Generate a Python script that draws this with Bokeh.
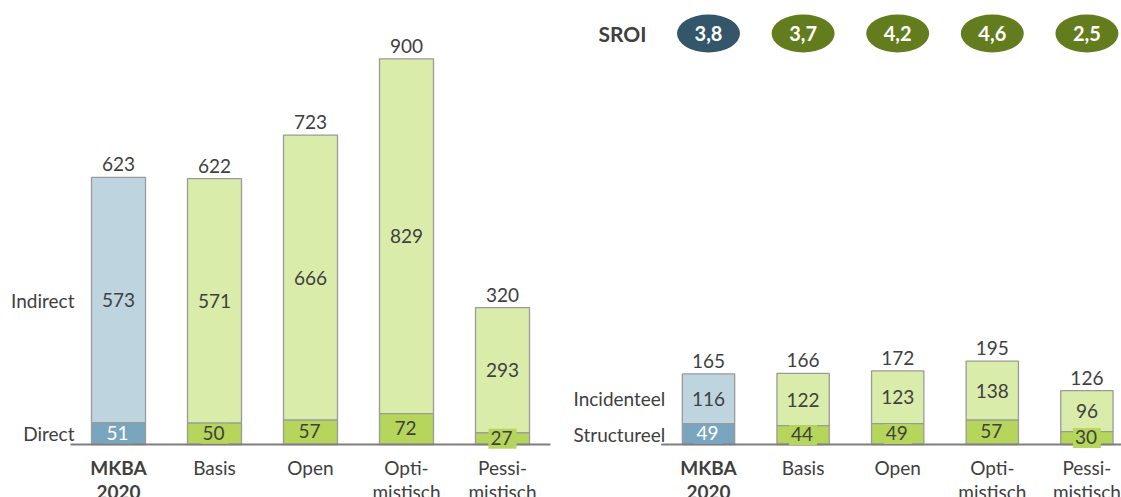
from bokeh.plotting import figure
from bokeh.layouts import row
from bokeh.models import ColumnDataSource, Range1d
from bokeh.core.properties import value
from bokeh.embed import file_html
from bokeh.resources import INLINE

# ---------------- data ----------------
categories = ["MKBA\n2020", "Basis", "Open", "Opti-\nmistisch", "Pessi-\nmistisch"]
cat_weight = ["bold", "normal", "normal", "normal", "normal"]

direct = [51, 50, 57, 72, 27]
indirect = [573, 571, 666, 829, 293]
total_left = [623, 622, 723, 900, 320]

structureel = [49, 44, 49, 57, 30]
incidenteel = [116, 122, 123, 138, 96]
total_right = [165, 166, 172, 195, 126]

sroi = ["3,8", "3,7", "4,2", "4,6", "2,5"]

# ---------------- styles ----------------
FONT = value("Lato")
TXT = "#404040"
LIGHT = ["#BED4DF", "#D9ECA9", "#D9ECA9", "#D9ECA9", "#D9ECA9"]
DARK = ["#79A6BE", "#B5D65B", "#B5D65B", "#B5D65B", "#B5D65B"]
INNER_TXT = ["#FFFFFF", TXT, TXT, TXT, TXT]
ELL = ["#34566A", "#637C1E", "#637C1E", "#637C1E", "#637C1E"]
OUTLINE = "#9A9A9A"
AXIS = "#7F7F7F"

H = 497
PXU = 0.428          # pixels per data unit
BASE = 444           # baseline distance from figure top
y_lo = -(H - BASE) / PXU
y_hi = BASE / PXU


def make_chart(width, step, first_center, bar_w, lower, upper, totals, low_name, up_name):
    n = len(categories)
    xs = list(range(n))
    x0 = -first_center / step
    x1 = x0 + width / step
    p = figure(width=width, height=H, output_backend="svg", toolbar_location=None,
               x_range=Range1d(x0, x1), y_range=Range1d(y_lo, y_hi),
               x_axis_location=None, y_axis_location=None, min_border=0)
    p.outline_line_color = None
    p.grid.visible = False

    tops = [a + b for a, b in zip(lower, upper)]
    src = ColumnDataSource(dict(
        x=xs, lower=lower, upper=upper, tops=tops, totals=[str(t) for t in totals],
        lo_mid=[v / 2 for v in lower], up_mid=[a + b / 2 for a, b in zip(lower, upper)],
        lo_txt=[str(v) for v in lower], up_txt=[str(v) for v in upper],
        light=LIGHT, dark=DARK, inner=INNER_TXT, cats=categories, weight=cat_weight,
        zero=[0] * n))

    p.vbar(x="x", bottom="lower", top="tops", width=bar_w, fill_color="light",
           line_color=OUTLINE, line_width=1.3, source=src)
    p.vbar(x="x", bottom="zero", top="lower", width=bar_w, fill_color="dark",
           line_color=OUTLINE, line_width=1.3, source=src)

    # baseline
    p.segment(x0=-0.5, y0=0, x1=min(n - 0.5, x1), y1=0, line_color=AXIS, line_width=2)

    # value labels
    p.text(x="x", y="up_mid", text="up_txt", source=src, text_font=FONT,
           text_font_size="19px", text_color=TXT, text_align="center",
           text_baseline="middle")
    p.text(x="x", y="lo_mid", text="lo_txt", source=src, text_font=FONT,
           text_font_size="19px", text_color="inner", text_align="center",
           text_baseline="middle", background_fill_color="dark", padding=(2, 4, 2, 4))
    p.text(x="x", y="tops", text="totals", source=src, text_font=FONT,
           text_font_size="19px", text_color=TXT, text_align="center",
           text_baseline="middle", y_offset=-13)

    # category labels
    p.text(x="x", y="zero", text="cats", source=src, text_font=FONT,
           text_font_size="19px", text_color=TXT, text_align="center",
           text_baseline="top", y_offset=11, text_font_style="weight",
           text_line_height=1.05)

    # row labels
    p.text(x=[-bar_w / 2, -bar_w / 2], y=[lower[0] / 2, lower[0] + upper[0] / 2],
           text=[low_name, up_name], text_font=FONT, text_font_size="19px",
           text_color=TXT, text_align="right", text_baseline="middle", x_offset=-17)
    return p


p1 = make_chart(566, 96.0, 118, 0.5625, direct, indirect, total_left, "Direct", "Indirect")
p2 = make_chart(555, 94.6, 142, 0.553, structureel, incidenteel, total_right,
                "Structureel", "Incidenteel")

# SROI row on the right chart
y_sroi = y_hi - 33 / PXU
p2.ellipse(x=list(range(len(sroi))), y=[y_sroi] * len(sroi), width=63, height=38,
           width_units="screen", height_units="screen", fill_color=ELL, line_color=None)
p2.text(x=list(range(len(sroi))), y=[y_sroi] * len(sroi), text=sroi, text_font=FONT,
        text_font_size="20px", text_font_style="bold", text_color="#FFFFFF",
        text_align="center", text_baseline="middle")
p2.text(x=[0], y=[y_sroi], text=["SROI"], text_font=FONT, text_font_size="21px",
        text_font_style="bold", text_color=TXT, text_align="right",
        text_baseline="middle", x_offset=-62)

layout = row(p1, p2)
open("out.html", "w").write(file_html(layout, INLINE))
